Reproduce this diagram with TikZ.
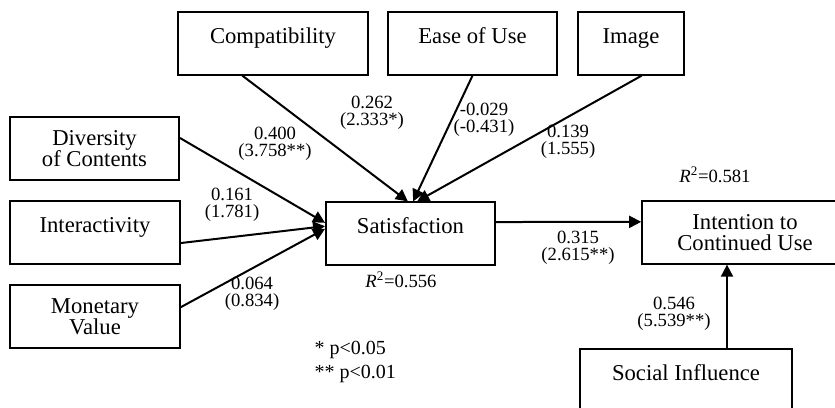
\documentclass[tikz,border=0pt]{standalone}
\usepackage{fontspec}
\setmainfont{Liberation Serif}
\usepackage{tikz}
\usetikzlibrary{arrows.meta}
\tikzset{
    box_construct/.style={
        rectangle, draw=black, line width=1.2pt, fill=white,
        minimum width=127pt, minimum height=47pt, inner sep=2pt,
        align=center, font=\fontsize{17}{16}\selectfont
    },
    box_single/.style={
        box_construct, text height=9pt, text depth=9pt
    },
    path_arrow/.style={
        -{Triangle[length=9pt, width=9pt]}, line width=1.5pt, draw=black
    },
    coef_lbl/.style={
        font=\fontsize{14}{13}\selectfont, align=center, inner sep=1pt
    },
    r2_lbl/.style={
        font=\fontsize{14}{14}\selectfont, inner sep=1pt
    },
    note_lbl/.style={
        font=\fontsize{15}{18}\selectfont, align=left, inner sep=1pt
    }
}

\begin{document}
\begin{tikzpicture}[x=0.75pt, y=-0.75pt]

    \useasboundingbox (0,0) rectangle (835,407);

    \node[box_single, minimum width=142.5pt] (compat) at (273, 43.5) {Compatibility};
    \node[box_single] (ease) at (472.5, 43.5) {Ease of Use};
    \node[box_single, minimum width=79.5pt] (image) at (631, 43.5) {Image};

    \node[box_construct] (diversity) at (94.5, 148.5) {Diversity\\of Contents};
    \node[box_single, minimum width=127.5pt] (interact) at (95, 232.5) {Interactivity};
    \node[box_construct, minimum width=127.5pt] (monetary) at (95, 316.5) {Monetary\\Value};

    \node[box_single] (satisf) at (410.5, 233.5) {Satisfaction};
    \node[box_construct, minimum width=154.5pt] (intent) at (745, 232.5) {Intention to\\Continued Use};
    \node[box_single, minimum width=159pt] (social) at (686, 380.5) {Social Influence};

    \draw[path_arrow] ([yshift=7.9pt]diversity.east) -- ([yshift=8pt]satisf.west);
    \draw[path_arrow] ([yshift=-7.9pt]interact.east) -- ([yshift=5.5pt]satisf.west);
    \draw[path_arrow] ([yshift=7pt]monetary.east) -- ([yshift=3.5pt]satisf.west);
    \draw[path_arrow] ([xshift=-23pt]compat.south) -- ([xshift=-2pt]satisf.north);
    \draw[path_arrow] (ease.south) -- ([xshift=2pt]satisf.north);
    \draw[path_arrow] ([xshift=8pt]image.south) -- ([xshift=5pt]satisf.north);
    \draw[path_arrow] ([yshift=8.6pt]satisf.east) -- ([yshift=8pt]intent.west);
    \draw[path_arrow] ([xshift=30.75pt]social.north) -- ([xshift=-13.5pt]intent.south);

    \node[coef_lbl] (c_div) at (275, 144) {0.400\\(3.758**)};
    \node[coef_lbl] (c_comp) at (372, 113) {0.262\\(2.333*)};
    \node[coef_lbl] (c_ease) at (484, 120) {-0.029\\(-0.431)};
    \node[coef_lbl] (c_img) at (568, 142) {0.139\\(1.555)};
    \node[coef_lbl] (c_int) at (232, 205) {0.161\\(1.781)};
    \node[coef_lbl] (c_mon) at (252, 294) {0.064\\(0.834)};
    \node[coef_lbl] (c_sat) at (578, 248) {0.315\\(2.615**)};
    \node[coef_lbl] (c_soc) at (674, 314) {0.546\\(5.539**)};

    \node[r2_lbl] (r_sat) at (401, 280) {\textit{R}\textsuperscript{2}=0.556};
    \node[r2_lbl] (r_int) at (715, 175) {\textit{R}\textsuperscript{2}=0.581};
    \node[note_lbl, anchor=north west] (note) at (313, 340) {* p<0.05\\** p<0.01};

\end{tikzpicture}
\end{document}
